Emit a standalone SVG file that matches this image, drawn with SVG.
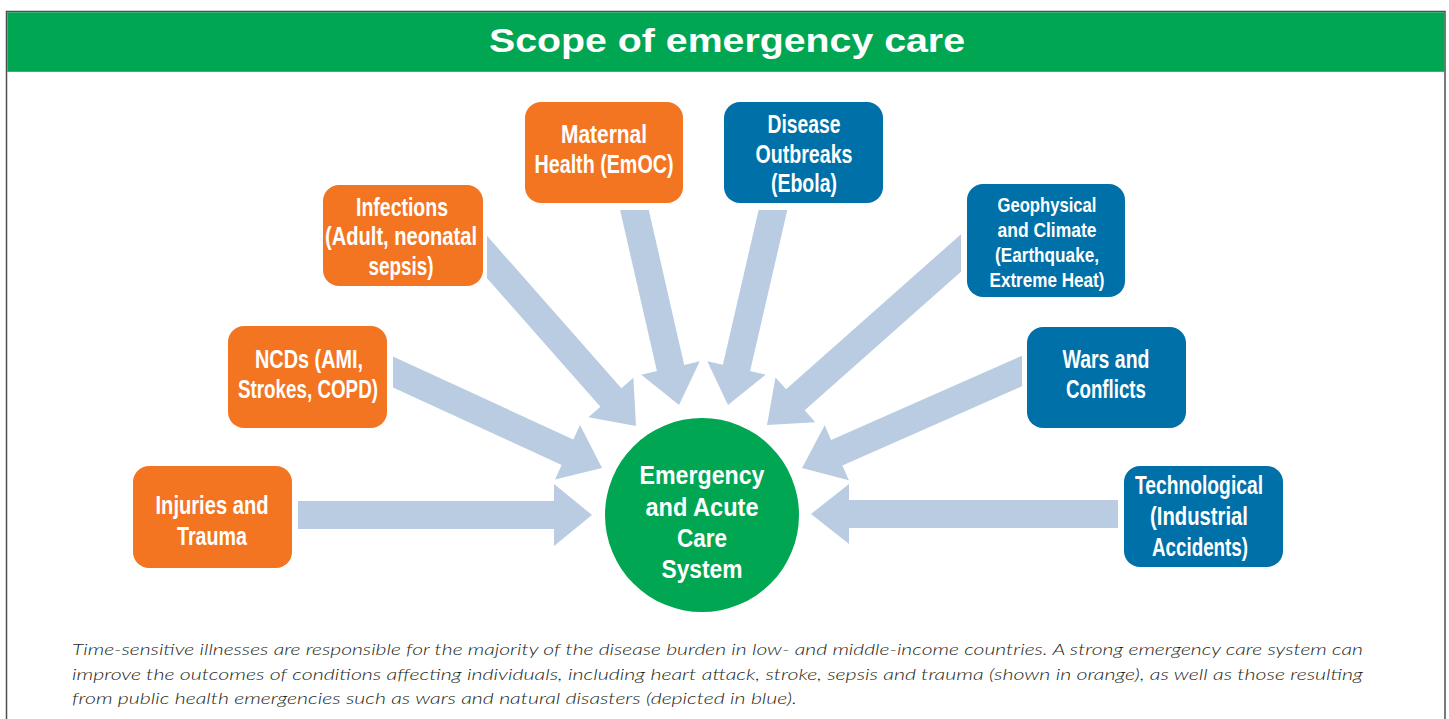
<svg xmlns="http://www.w3.org/2000/svg" width="1449" height="719" viewBox="0 0 1449 719">
<style>
.box-o{fill:#F47521}
.box-b{fill:#0070A9}
.arrow{fill:#BACCE2}
.lbl{font-family:"Liberation Sans","Arial",sans-serif;font-weight:700;fill:#ffffff;text-anchor:middle;font-size:25px}
.lbl-s{font-size:21px}
.ctr{font-family:"Liberation Sans","Arial",sans-serif;font-weight:700;fill:#ffffff;text-anchor:middle;font-size:26.5px}
.title{font-family:"Liberation Sans","DejaVu Sans",sans-serif;font-weight:700;fill:#ffffff;font-size:34px}
.cap{font-family:"Lato","Open Sans","Liberation Sans",sans-serif;font-style:italic;font-weight:300;fill:#231F20;font-size:16px}
</style>
<rect x="0" y="0" width="1449" height="719" fill="#ffffff"/>
<rect x="6.5" y="11.5" width="1438.5" height="720" fill="none" stroke="#4D4D4D" stroke-width="1.5"/>
<g id="title">
<rect x="7.3" y="12.3" width="1437" height="59.5" fill="#00A651"/>
<text class="title" x="489" y="52" textLength="476" lengthAdjust="spacingAndGlyphs">Scope of emergency care</text>
</g>
<g id="connectors">
<polygon class="arrow" points="393,356.6 573.3,439.4 580,424.9 602,468 555,479.4 561.6,464.9 393,387.5"/>
<polygon class="arrow" points="487,235.8 621.4,388.2 633.4,377.7 636,426 588.4,417.3 600.4,406.8 487,278.2"/>
<polygon class="arrow" points="620.1,210 648.8,210 684.2,364.9 699.8,361.3 679,405 641.3,374.7 656.9,371.1"/>
<polygon class="arrow" points="758.6,210 787.3,210 750.1,371.1 765.7,374.7 728,405 707.3,361.3 722.9,364.8"/>
<polygon class="arrow" points="961,234.2 786.1,389.3 775.5,377.4 767,425 815.3,422.2 804.7,410.3 961,271.7"/>
<polygon class="arrow" points="1022,355.7 831.1,439.9 824.7,425.2 802,468 848.9,480.2 842.4,465.5 1022,386.3"/>
<polygon class="arrow" points="298,501 554,501 554,484 592,515 554,546 554,529 298,529"/>
<polygon class="arrow" points="1118,500 849,500 849,484 811,514 849,544 849,528 1118,528"/>
</g>
<g id="node-maternal">
<rect class="box-o" x="525" y="102" width="158" height="101" rx="16"/>
<text class="lbl" x="604" y="143" textLength="86" lengthAdjust="spacingAndGlyphs">Maternal</text>
<text class="lbl" x="604" y="173" textLength="139" lengthAdjust="spacingAndGlyphs">Health (EmOC)</text>
</g>
<g id="node-disease">
<rect class="box-b" x="724" y="102" width="159" height="101" rx="16"/>
<text class="lbl" x="804" y="133" textLength="73" lengthAdjust="spacingAndGlyphs">Disease</text>
<text class="lbl" x="804" y="163" textLength="97" lengthAdjust="spacingAndGlyphs">Outbreaks</text>
<text class="lbl" x="804" y="192" textLength="66" lengthAdjust="spacingAndGlyphs">(Ebola)</text>
</g>
<g id="node-infections">
<rect class="box-o" x="323" y="185" width="160" height="101" rx="16"/>
<text class="lbl" x="402" y="216" textLength="92" lengthAdjust="spacingAndGlyphs">Infections</text>
<text class="lbl" x="401" y="245" textLength="152" lengthAdjust="spacingAndGlyphs">(Adult, neonatal</text>
<text class="lbl" x="401" y="275" textLength="65" lengthAdjust="spacingAndGlyphs">sepsis)</text>
</g>
<g id="node-ncds">
<rect class="box-o" x="228" y="326" width="159" height="102" rx="16"/>
<text class="lbl" x="309" y="368" textLength="108" lengthAdjust="spacingAndGlyphs">NCDs (AMI,</text>
<text class="lbl" x="308" y="398" textLength="140" lengthAdjust="spacingAndGlyphs">Strokes, COPD)</text>
</g>
<g id="node-injuries">
<rect class="box-o" x="133" y="466" width="159" height="102" rx="16"/>
<text class="lbl" x="212" y="514" textLength="113" lengthAdjust="spacingAndGlyphs">Injuries and</text>
<text class="lbl" x="212" y="545" textLength="70" lengthAdjust="spacingAndGlyphs">Trauma</text>
</g>
<g id="node-geophysical">
<rect class="box-b" x="967" y="184" width="158" height="113" rx="16"/>
<text class="lbl lbl-s" x="1047" y="212" textLength="99" lengthAdjust="spacingAndGlyphs">Geophysical</text>
<text class="lbl lbl-s" x="1047" y="237" textLength="99" lengthAdjust="spacingAndGlyphs">and Climate</text>
<text class="lbl lbl-s" x="1047" y="262" textLength="104" lengthAdjust="spacingAndGlyphs">(Earthquake,</text>
<text class="lbl lbl-s" x="1047" y="287" textLength="115" lengthAdjust="spacingAndGlyphs">Extreme Heat)</text>
</g>
<g id="node-wars">
<rect class="box-b" x="1027" y="327" width="159" height="101" rx="16"/>
<text class="lbl" x="1106" y="368" textLength="87" lengthAdjust="spacingAndGlyphs">Wars and</text>
<text class="lbl" x="1106" y="398" textLength="80" lengthAdjust="spacingAndGlyphs">Conflicts</text>
</g>
<g id="node-technological">
<rect class="box-b" x="1124" y="466" width="159" height="101" rx="16"/>
<text class="lbl" x="1199" y="494" textLength="128" lengthAdjust="spacingAndGlyphs">Technological</text>
<text class="lbl" x="1199" y="525" textLength="98" lengthAdjust="spacingAndGlyphs">(Industrial</text>
<text class="lbl" x="1200" y="556" textLength="96" lengthAdjust="spacingAndGlyphs">Accidents)</text>
</g>
<g id="node-center">
<circle cx="702" cy="515" r="97" fill="#00A651"/>
<text class="ctr" x="702" y="484" textLength="125" lengthAdjust="spacingAndGlyphs">Emergency</text>
<text class="ctr" x="702" y="516" textLength="113" lengthAdjust="spacingAndGlyphs">and Acute</text>
<text class="ctr" x="702" y="547" textLength="50" lengthAdjust="spacingAndGlyphs">Care</text>
<text class="ctr" x="702" y="578" textLength="81" lengthAdjust="spacingAndGlyphs">System</text>
</g>
<g id="caption">
<text class="cap" x="72" y="655" textLength="1291" lengthAdjust="spacingAndGlyphs">Time-sensitive illnesses are responsible for the majority of the disease burden in low- and middle-income countries. A strong emergency care system can</text>
<text class="cap" x="72" y="680" textLength="1291" lengthAdjust="spacingAndGlyphs">improve the outcomes of conditions affecting individuals, including heart attack, stroke, sepsis and trauma (shown in orange), as well as those resulting</text>
<text class="cap" x="72" y="704" textLength="725" lengthAdjust="spacingAndGlyphs">from public health emergencies such as wars and natural disasters (depicted in blue).</text>
</g>
</svg>
